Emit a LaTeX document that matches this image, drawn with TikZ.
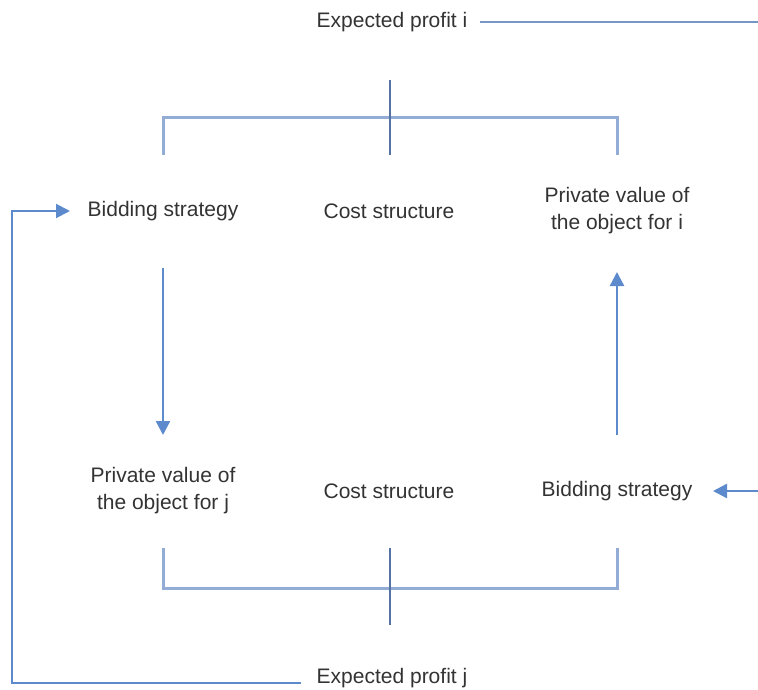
\documentclass[tikz,border=0pt]{standalone}
\usepackage{fontspec}
\setmainfont{Liberation Sans}
\usetikzlibrary{arrows.meta,calc}
\definecolor{bracketblue}{RGB}{146,172,214}
\definecolor{crossblue}{RGB}{84,114,164}
\definecolor{arrowblue}{RGB}{92,138,204}
\definecolor{loopblue}{RGB}{118,150,198}
\definecolor{txtgray}{RGB}{51,51,51}
\tikzstyle{label} = [text=txtgray, font=\fontsize{21}{27}\selectfont, align=center, inner sep=0pt]
\tikzstyle{bracket} = [draw=bracketblue, line width=3pt]
\tikzstyle{cross} = [draw=crossblue, line width=1.4pt]
\tikzstyle{arrow} = [draw=arrowblue, line width=2.4pt, -{Triangle[length=14pt,width=14pt]}]
\tikzstyle{loopline} = [draw=loopblue, line width=2pt]

\begin{document}
\begin{tikzpicture}[x=1pt,y=-1pt]
\useasboundingbox (0,0) rectangle (758,690);

\node (profiti) [label] at (392,22) {Expected profit i};
\node (bidi) [label] at (163,211) {Bidding strategy};
\node (costi) [label] at (389,211) {Cost structure};
\node (privi) [label] at (617,211) {Private value of\\the object for i};

\node (privj) [label] at (163,491) {Private value of\\the object for j};
\node (costj) [label] at (389,491) {Cost structure};
\node (bidj) [label] at (617,491) {Bidding strategy};
\node (profitj) [label] at (392,678) {Expected profit j};

\coordinate (endi) at (758,22);
\coordinate (endj) at (758,491);
\coordinate (loopc) at (12,211);

\draw [loopline] ($(profiti.east)+(13,0)$) -- (endi);

% upper bracket
\draw [bracket] ($(bidi)+(0,-56)$) -- ($(bidi)+(0,-93)$) -- ($(privi)+(0,-93)$) -- ($(privi)+(0,-56)$);
\draw [cross] ($(costi)+(1,-131)$) -- ($(costi)+(1,-56)$);

% lower bracket
\draw [bracket] ($(privj)+(0,57)$) -- ($(privj)+(0,97)$) -- ($(bidj)+(0,97)$) -- ($(bidj)+(0,57)$);
\draw [cross] ($(costj)+(1,57)$) -- ($(costj)+(1,134)$);

\draw [arrow] ($(bidi)+(0,57)$) -- ($(privj)+(0,-56)$);
\draw [arrow] ($(bidj)+(0,-56)$) -- ($(privi)+(0,61)$);
\draw [arrow] (endj) -- ($(bidj)+(96,0)$);
\draw [loopline, -{Triangle[length=14pt,width=14pt]}, arrowblue] ($(profitj.west)+(-16,5)$) -| (loopc) -- ($(bidi)+(-93,0)$);

\end{tikzpicture}
\end{document}
